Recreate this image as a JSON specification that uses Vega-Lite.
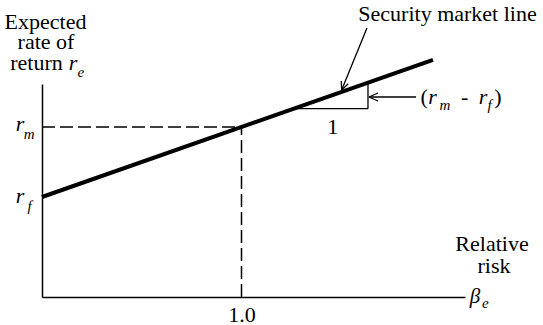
{
  "$schema": "https://vega.github.io/schema/vega-lite/v6.json",
  "width": 423,
  "height": 213,
  "autosize": "none",
  "padding": {"left": 42, "top": 84, "right": 78, "bottom": 28},
  "background": "white",
  "config": {"view": {"stroke": null}},
  "datasets": {
    "sml": [{"b": 0, "v": 1.0}, {"b": 1.96, "v": 2.372}],
    "dashed": [
      {"b": 0, "v": 1.7, "b2": 1, "v2": 1.7},
      {"b": 1, "v": 0, "b2": 1, "v2": 1.7}
    ],
    "thin": [
      {"b": 1.27, "v": 1.883, "b2": 1.634, "v2": 1.883},
      {"b": 1.634, "v": 1.883, "b2": 1.634, "v2": 2.144},
      {"b": 1.639, "v": 2.0, "b2": 1.875, "v2": 2.0},
      {"b": 1.639, "v": 2.0, "b2": 1.684, "v2": 2.04},
      {"b": 1.639, "v": 2.0, "b2": 1.684, "v2": 1.96},
      {"b": 1.629, "v": 2.69, "b2": 1.502, "v2": 2.07},
      {"b": 1.502, "v": 2.07, "b2": 1.535, "v2": 2.132},
      {"b": 1.502, "v": 2.07, "b2": 1.5, "v2": 2.16}
    ],
    "regular": [
      {"b": 0.0175, "v": 2.685, "t": "Expected"},
      {"b": 0.02, "v": 2.477, "t": "rate of"},
      {"b": -0.0276, "v": 2.27, "t": "return"},
      {"b": 2.0326, "v": 2.76, "t": "Security market line"},
      {"b": 2.2556, "v": 0.46, "t": "Relative"},
      {"b": 2.2657, "v": 0.24, "t": "risk"},
      {"b": 1.915, "v": 1.93, "t": "("},
      {"b": 2.118, "v": 1.93, "t": "-"},
      {"b": 2.285, "v": 1.93, "t": ")"},
      {"b": 1.457, "v": 1.63, "t": "1"}
    ],
    "italic": [
      {"b": 0.1554, "v": 2.27, "t": "r"},
      {"b": -0.11, "v": 1.66, "t": "r"},
      {"b": -0.11, "v": 0.94, "t": "r"},
      {"b": 1.957, "v": 1.93, "t": "r"},
      {"b": 2.2105, "v": 1.93, "t": "r"}
    ],
    "subs": [
      {"b": 0.195, "v": 2.2, "t": "e"},
      {"b": -0.064, "v": 1.58, "t": "m"},
      {"b": -0.062, "v": 0.86, "t": "f"},
      {"b": 2.02, "v": 1.87, "t": "m"},
      {"b": 2.243, "v": 1.87, "t": "f"},
      {"b": 2.222, "v": -0.11, "t": "e"}
    ],
    "beta": [{"b": 2.17, "v": -0.06, "t": "β"}]
  },
  "layer": [
    {
      "data": {"name": "sml"},
      "mark": {"type": "line", "color": "black", "strokeWidth": 4},
      "encoding": {
        "x": {
          "field": "b", "type": "quantitative", "title": null,
          "scale": {"domain": [0, 2.1203], "nice": false, "zero": false},
          "axis": {
            "values": [1], "format": ".1f", "ticks": false, "grid": false,
            "labelFont": "Liberation Serif", "labelFontSize": 22, "labelColor": "black",
            "labelBaseline": "alphabetic", "labelPadding": 24,
            "domainColor": "black", "domainWidth": 1.5
          }
        },
        "y": {
          "field": "v", "type": "quantitative", "title": null,
          "scale": {"domain": [0, 2.13], "nice": false, "zero": false},
          "axis": {
            "labels": false, "ticks": false, "grid": false,
            "domainColor": "black", "domainWidth": 1.5
          }
        }
      }
    },
    {
      "data": {"name": "dashed"},
      "mark": {"type": "rule", "color": "black", "strokeWidth": 1.5, "strokeDash": [13, 5]},
      "encoding": {
        "x": {"field": "b", "type": "quantitative", "title": null},
        "y": {"field": "v", "type": "quantitative", "title": null},
        "x2": {"field": "b2"},
        "y2": {"field": "v2"}
      }
    },
    {
      "data": {"name": "thin"},
      "mark": {"type": "rule", "color": "black", "strokeWidth": 1.3},
      "encoding": {
        "x": {"field": "b", "type": "quantitative", "title": null},
        "y": {"field": "v", "type": "quantitative", "title": null},
        "x2": {"field": "b2"},
        "y2": {"field": "v2"}
      }
    },
    {
      "data": {"name": "regular"},
      "mark": {"type": "text", "font": "Liberation Serif", "fontSize": 22, "color": "black", "align": "center", "baseline": "alphabetic"},
      "encoding": {
        "x": {"field": "b", "type": "quantitative", "title": null},
        "y": {"field": "v", "type": "quantitative", "title": null},
        "text": {"field": "t"}
      }
    },
    {
      "data": {"name": "italic"},
      "mark": {"type": "text", "font": "Liberation Serif", "fontStyle": "italic", "fontSize": 22, "color": "black", "align": "center", "baseline": "alphabetic"},
      "encoding": {
        "x": {"field": "b", "type": "quantitative", "title": null},
        "y": {"field": "v", "type": "quantitative", "title": null},
        "text": {"field": "t"}
      }
    },
    {
      "data": {"name": "subs"},
      "mark": {"type": "text", "font": "Liberation Serif", "fontStyle": "italic", "fontSize": 15, "color": "black", "align": "center", "baseline": "alphabetic"},
      "encoding": {
        "x": {"field": "b", "type": "quantitative", "title": null},
        "y": {"field": "v", "type": "quantitative", "title": null},
        "text": {"field": "t"}
      }
    },
    {
      "data": {"name": "beta"},
      "mark": {"type": "text", "font": "Liberation Serif", "fontStyle": "italic", "fontSize": 21, "color": "black", "align": "center", "baseline": "alphabetic"},
      "encoding": {
        "x": {"field": "b", "type": "quantitative", "title": null},
        "y": {"field": "v", "type": "quantitative", "title": null},
        "text": {"field": "t"}
      }
    }
  ]
}
